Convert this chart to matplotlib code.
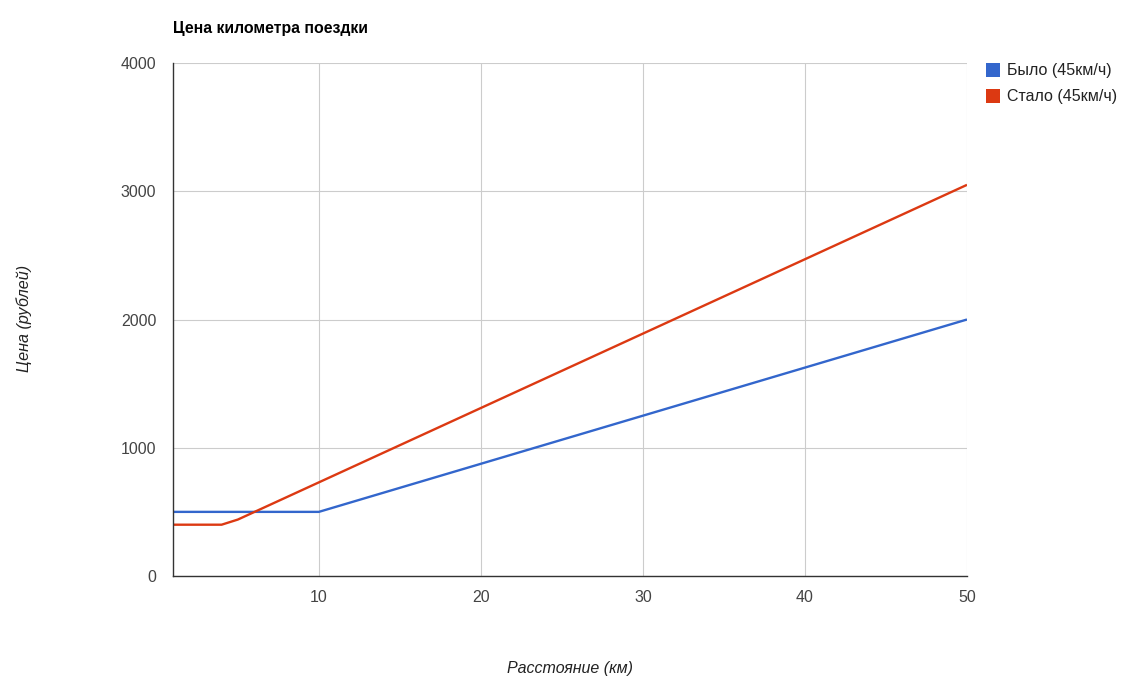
import matplotlib
matplotlib.use("Agg")
import matplotlib.pyplot as plt
from matplotlib.patches import Rectangle

# Data
x_old = [1, 10, 20, 30, 40, 50]
y_old = [500, 500, 875, 1250, 1625, 2000]
x_new = [1, 4, 5, 10, 20, 30, 40, 50]
y_new = [400, 400, 440, 730, 1310, 1890, 2470, 3050]
series_names = ["Было (45км/ч)", "Стало (45км/ч)"]
colors = ["#3366cc", "#dc3912"]
x_ticks = [10, 20, 30, 40, 50]
y_ticks = [0, 1000, 2000, 3000, 4000]

plt.rcParams['font.family'] = ['Liberation Sans', 'DejaVu Sans']

fig = plt.figure(figsize=(11.48, 6.92), dpi=100)
ax = fig.add_axes([173/1148, 1 - 576/692, (967-173)/1148, (576-63)/692])

ax.plot(x_old, y_old, color=colors[0], lw=1.7, solid_capstyle='butt', zorder=3)
ax.plot(x_new, y_new, color=colors[1], lw=1.7, solid_capstyle='butt', zorder=3)

ax.set_xlim(1, 50)
ax.set_ylim(0, 4000)
ax.set_xticks(x_ticks)
ax.set_yticks(y_ticks)
ax.grid(True, color="#cccccc", lw=0.8)
ax.tick_params(length=0, labelsize=11.5, colors="#444444", pad=12)
ax.tick_params(axis='x', pad=10)
for s in ['top', 'right']:
    ax.spines[s].set_visible(False)
for s in ['left', 'bottom']:
    ax.spines[s].set_color("#333333")
    ax.spines[s].set_linewidth(1.0)
    ax.spines[s].set_zorder(4)

fig.text(173/1148, 1 - 28/692, "Цена километра поездки", fontsize=11.4, fontweight='bold',
         ha='left', va='center', color='black')
fig.text(570/1148, 1 - 668/692, "Расстояние (км)", fontsize=11.5, style='italic',
         ha='center', va='center', color='#222222')
fig.text(24/1148, 1 - 318/692, "Цена (рублей)", fontsize=11.6, style='italic', rotation=90,
         ha='center', va='center', color='#222222')

# Legend
for i, (name, c) in enumerate(zip(series_names, colors)):
    yc = 70 + i * 26
    fig.patches.append(Rectangle((986/1148, 1 - (yc + 7)/692), 14/1148, 14/692,
                                 transform=fig.transFigure, facecolor=c, edgecolor='none'))
    fig.text(1007/1148, 1 - yc/692, name, fontsize=11.5, ha='left', va='center', color='#222222')

fig.savefig("out.png", dpi=100)
